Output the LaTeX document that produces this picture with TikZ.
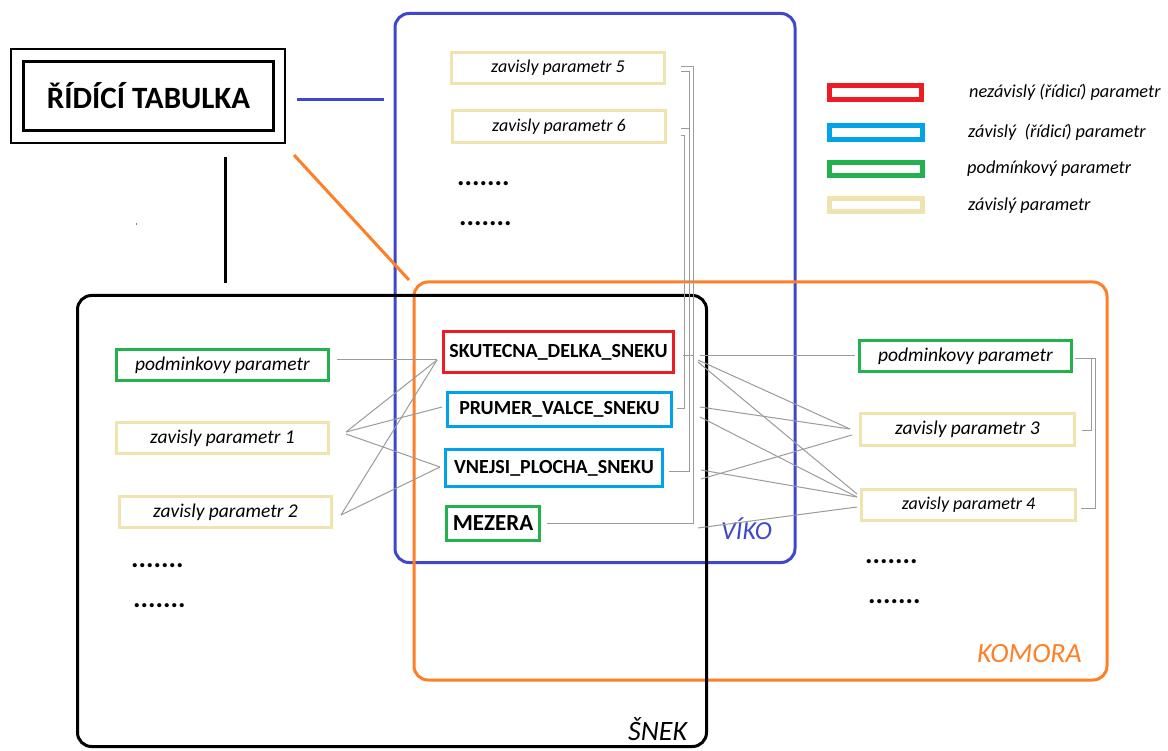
\documentclass[tikz,border=0pt]{standalone}
\usepackage{fontspec}
\setmainfont{Carlito}
\definecolor{cred}{RGB}{237,28,36}
\definecolor{cblue}{RGB}{0,162,232}
\definecolor{cgreen}{RGB}{34,177,76}
\definecolor{cbeige}{RGB}{239,228,176}
\definecolor{corange}{RGB}{255,127,39}
\definecolor{cviko}{RGB}{63,72,204}
\definecolor{cgrey}{RGB}{155,155,155}
\begin{document}
\begin{tikzpicture}[x=1pt,y=-1pt,
  pbox/.style={draw, line width=3pt, inner sep=0pt, minimum width=212pt, minimum height=31pt},
  itl/.style={font=\fontsize{19.5}{21}\selectfont\itshape},
  its/.style={font=\fontsize{18}{20}\selectfont\itshape},
  bld/.style={font=\fontsize{20}{22}\selectfont\bfseries},
  legbox/.style={draw, line width=5pt, inner sep=0pt, minimum width=93pt, minimum height=13.5pt},
  legtxt/.style={anchor=west, inner sep=0pt, font=\fontsize{18.3}{20}\selectfont\itshape},
  dotsl/.style={anchor=base west, inner sep=0pt, font=\fontsize{28}{30}\selectfont\bfseries},
  area/.style={draw, line width=3pt, rounded corners=14pt, inner sep=0pt},
  conn/.style={draw=cgrey, line width=1pt},
  arealab/.style={anchor=base west, inner sep=0pt}
]
\useasboundingbox (0,0) rectangle (1168,751);
\fill[white] (0,0) rectangle (1168,751);

% big areas
\node[area, draw=cviko, minimum width=400pt, minimum height=549pt] (viko) at (595,288) {};
\node[area, draw=corange, minimum width=693pt, minimum height=398pt] (komora) at (760.5,481) {};
\node[area, draw=black, minimum width=629pt, minimum height=451pt] (snek) at (392,521) {};

\node[arealab, text=cviko, font=\fontsize{26}{28}\selectfont\itshape] (vikolab) at (721,539) {VÍKO};
\node[arealab, text=corange, font=\fontsize{27.8}{30}\selectfont\itshape] (komoralab) at (977,662) {KOMORA};
\node[arealab, text=black, font=\fontsize{28}{30}\selectfont\itshape] (seklab) at (628,740) {ŠNEK};

% title
\node[draw, line width=2pt, minimum width=274pt, minimum height=94pt, inner sep=0pt] (titleframe) at (148,96) {};
\node[draw, line width=3pt, minimum width=250pt, minimum height=69pt, inner sep=0pt,
      font=\fontsize{31}{34}\selectfont\bfseries] (title) at (148.5,96) {ŘÍDÍCÍ TABULKA};

\coordinate (tB1) at (297,100);
\coordinate (tB2) at (384,100);
\coordinate (tK1) at (225,157);
\coordinate (tK2) at (225,283);
\coordinate (tO1) at (294,155);
\coordinate (tO2) at (409,280);
\draw[cviko, line width=3pt] (tB1) -- (tB2);
\draw[black, line width=3pt] (tK1) -- (tK2);
\draw[corange, line width=3pt] (tO1) -- (tO2);
\fill[gray] (135.5,223.5) rectangle (137,225);

% left nodes
\node[pbox, draw=cgreen, itl] (lpod) at (222.5,365) {podminkovy parametr};
\node[pbox, draw=cbeige, itl] (z1) at (222.5,438) {zavisly parametr 1};
\node[pbox, draw=cbeige, itl] (z2) at (225.5,512) {zavisly parametr 2};
\node[dotsl] (ld1) at (131,567) {.......};
\node[dotsl] (ld2) at (133,607) {.......};

% top nodes
\node[pbox, draw=cbeige, its, minimum width=213pt] (z5) at (558,68) {zavisly parametr 5};
\node[pbox, draw=cbeige, its, minimum width=213pt, minimum height=32pt] (z6) at (559,126.5) {zavisly parametr 6};
\node[dotsl] (td1) at (457,186) {.......};
\node[dotsl] (td2) at (459,226) {.......};

% center nodes
\node[pbox, draw=cred, bld, minimum width=230pt, minimum height=41pt] (sk) at (558.5,352) {SKUTECNA\_DELKA\_SNEKU};
\node[pbox, draw=cblue, bld, minimum width=224pt, minimum height=34pt] (pr) at (559.5,409.5) {PRUMER\_VALCE\_SNEKU};
\node[pbox, draw=cblue, bld, minimum width=217pt, minimum height=37pt] (vn) at (554,468) {VNEJSI\_PLOCHA\_SNEKU};
\node[pbox, draw=cgreen, font=\fontsize{23}{25}\selectfont\bfseries, minimum width=93pt, minimum height=34pt] (mz) at (493,523.5) {MEZERA};

% right nodes
\node[pbox, draw=cgreen, itl] (rpod) at (965.5,356) {podminkovy parametr};
\node[pbox, draw=cbeige, itl, minimum width=214pt, minimum height=32pt] (z3) at (967.5,429.5) {zavisly parametr 3};
\node[pbox, draw=cbeige, its, minimum width=214pt] (z4) at (968.5,505) {zavisly parametr 4};
\node[dotsl] (rd1) at (865,563) {.......};
\node[dotsl] (rd2) at (868,603) {.......};

% legend
\node[legbox, draw=cred, minimum width=92pt, minimum height=14pt] (leg1) at (875.5,92.5) {};
\node[legbox, draw=cblue, minimum height=14pt] (leg2) at (876,132.5) {};
\node[legbox, draw=cgreen] (leg3) at (876,169) {};
\node[legbox, draw=cbeige] (leg4) at (876,205) {};
\node[legtxt] (lt1) at (969,92) {nezávislý (řídicí) parametr};
\node[legtxt] (lt2) at (968,132) {závislý \ (řídicí) parametr};
\node[legtxt] (lt3) at (967,169) {podmínkový parametr};
\node[legtxt] (lt4) at (968,206) {závislý parametr};

% connector end points
\coordinate (lpodR) at (337,360);
\coordinate (z1R) at (346,432);
\coordinate (z1Rb) at (346,434);
\coordinate (z2R) at (341,515);
\coordinate (skL) at (437,360);
\coordinate (prL) at (442,407);
\coordinate (vnL) at (440,467);

\coordinate (skRa) at (700,356);
\coordinate (skRb) at (698,360);
\coordinate (skRc) at (698,362);
\coordinate (prRa) at (700,407);
\coordinate (prRb) at (700,417);
\coordinate (vnRa) at (701,470);
\coordinate (vnRb) at (701,479);
\coordinate (mzR) at (698,528);
\coordinate (rpodL) at (855,356);
\coordinate (z3La) at (850,429);
\coordinate (z3Lb) at (852,435);
\coordinate (z4La) at (857,494);
\coordinate (z4Lb) at (857,497);
\coordinate (z4Lc) at (857,507);

\coordinate (z5Ra) at (681,67);
\coordinate (z5Rb) at (681,72);
\coordinate (z6Ra) at (681,129);
\coordinate (z6Rb) at (681,136);
\coordinate (skT) at (683,356);
\coordinate (prR) at (677,409);
\coordinate (vnR) at (669,471);
\coordinate (mzRt) at (547,523);

\coordinate (rpodR) at (1075,359);
\coordinate (z3R) at (1082,430);
\coordinate (z4R) at (1081,508);

% left connectors
\draw[conn] (lpodR) -- (skL);
\draw[conn] (z1R) -- (skL);
\draw[conn] (z2R) -- (skL);
\draw[conn] (z1R) -- (prL);
\draw[conn] (z1Rb) -- (vnL);
\draw[conn] (z2R) -- (vnL);

% right connectors
\draw[conn] (skRa) -- (rpodL);
\draw[conn] (skRb) -- (z3La);
\draw[conn] (skRc) -- (z4La);
\draw[conn] (prRa) -- (z3La);
\draw[conn] (prRb) -- (z4Lb);
\draw[conn] (vnRa) -- (z4Lb);
\draw[conn] (vnRb) -- (z3Lb);
\draw[conn] (mzR) -- (z4Lc);

% top brackets
\draw[conn] (z5Ra) -- (693,67) -- (693,523) -- (mzRt);
\draw[conn] (z5Rb) -- (689,72) -- (689,471) -- (vnR);
\draw[conn] (z6Ra) -- (689,129);
\draw[conn] (z6Rb) -- (684,136) -- (684,409) -- (prR);
\draw[conn] (skT) -- (693,356);

% right bracket
\draw[conn] (rpodR) -- (1095,359) -- (1095,508) -- (z4R);
\draw[conn] (1091,359) -- (1091,430) -- (z3R);
\end{tikzpicture}
\end{document}
